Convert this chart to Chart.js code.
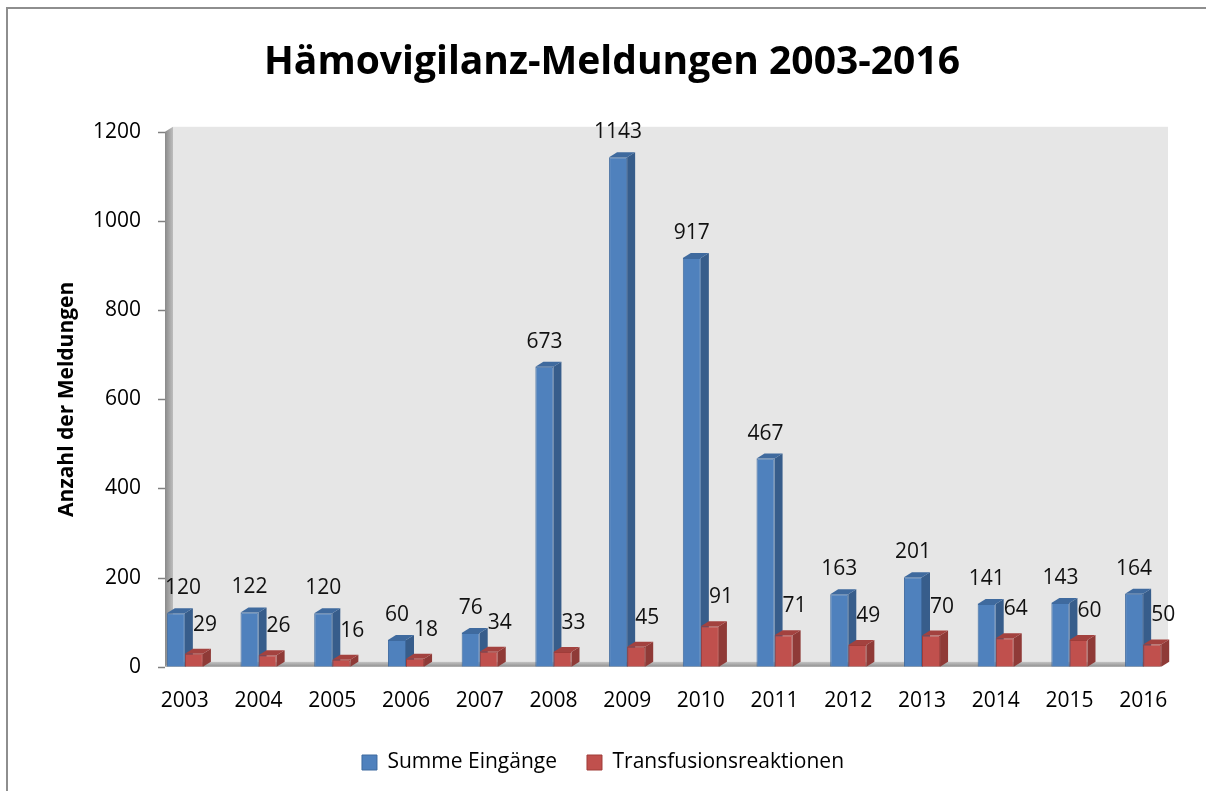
<!DOCTYPE html>
<html>
<head>
<meta charset="utf-8">
<script src="https://cdn.jsdelivr.net/npm/chart.js@4.4.0/dist/chart.umd.min.js"></script>
<style>
  html, body { margin: 0; padding: 0; background: #fff; }
  #wrap { position: relative; width: 1206px; height: 791px; overflow: hidden; }
  #wrap canvas { position: absolute; left: 0; top: 0; }
  #frame { position: absolute; left: 6px; top: 7px; right: -4px; bottom: -4px;
           border-top: 2px solid #8e8e8e; border-left: 2px solid #8e8e8e; pointer-events: none; }
</style>
</head>
<body>
<div id="wrap">
  <canvas id="chart" width="1206" height="791"></canvas>
  <div id="frame"></div>
</div>
<script>
// data
const years = ['2003', '2004', '2005', '2006', '2007', '2008', '2009',
               '2010', '2011', '2012', '2013', '2014', '2015', '2016'];
const summeEingaenge = [120, 122, 120, 60, 76, 673, 1143, 917, 467, 163, 201, 141, 143, 164];
const transfusionsreaktionen = [29, 26, 16, 18, 34, 33, 45, 91, 71, 49, 70, 64, 60, 50];
const yTicks = [0, 200, 400, 600, 800, 1000, 1200];

// 3d depth of the excel look
const DX = 8, DY = 5;
const sideColors = ['#375d8b', '#8f3a37'];
const topColors = ['#3f6a9e', '#a3423f'];

Chart.defaults.font.family = "'Open Sans', sans-serif";
Chart.defaults.color = '#000';

function wallGeometry(chart) {
  const area = chart.chartArea;
  const ys = chart.scales.y;
  return {
    fx: area.left + 17,
    R: area.right - 12,
    y0: ys.getPixelForValue(yTicks[0]),
    yTop: ys.getPixelForValue(yTicks[yTicks.length - 1])
  };
}

// walls, floor, ticks and the side / top faces of the bars
const walls3d = {
  id: 'walls3d',
  afterLayout(chart) {
    // title sits a little right of the legend in the original
    if (chart.titleBlock) {
      chart.titleBlock.left += 9;
      chart.titleBlock.right += 9;
    }
  },
  beforeDatasetsDraw(chart) {
    const ctx = chart.ctx;
    const ys = chart.scales.y;
    const g = wallGeometry(chart);
    ctx.save();
    // back wall
    ctx.fillStyle = '#e6e6e6';
    ctx.fillRect(g.fx + DX, g.yTop - DY, g.R - g.fx - DX, g.y0 - g.yTop);
    // left wall
    const lg = ctx.createLinearGradient(g.fx, 0, g.fx + DX, 0);
    lg.addColorStop(0, '#8a8a8a');
    lg.addColorStop(1, '#bdbdbd');
    ctx.fillStyle = lg;
    ctx.beginPath();
    ctx.moveTo(g.fx, g.yTop);
    ctx.lineTo(g.fx + DX, g.yTop - DY);
    ctx.lineTo(g.fx + DX, g.y0 - DY);
    ctx.lineTo(g.fx, g.y0);
    ctx.closePath();
    ctx.fill();
    // floor
    const fg = ctx.createLinearGradient(0, g.y0 - DY, 0, g.y0);
    fg.addColorStop(0, '#c4c4c4');
    fg.addColorStop(1, '#8f8f8f');
    ctx.fillStyle = fg;
    ctx.beginPath();
    ctx.moveTo(g.fx, g.y0);
    ctx.lineTo(g.fx + DX, g.y0 - DY);
    ctx.lineTo(g.R, g.y0 - DY);
    ctx.lineTo(g.R - DX, g.y0);
    ctx.closePath();
    ctx.fill();
    // tick marks
    ctx.strokeStyle = '#808080';
    ctx.lineWidth = 1.5;
    yTicks.forEach(v => {
      const y = Math.round(ys.getPixelForValue(v)) + 0.5;
      ctx.beginPath();
      ctx.moveTo(g.fx - 7, y);
      ctx.lineTo(g.fx, y);
      ctx.stroke();
    });
    // side and top faces, blue first so red covers the hidden part
    [0, 1].forEach(di => {
      chart.getDatasetMeta(di).data.forEach(bar => {
        const p = bar.getProps(['x', 'y', 'base', 'width'], true);
        const l = p.x - p.width / 2, r = p.x + p.width / 2;
        ctx.fillStyle = sideColors[di];
        ctx.beginPath();
        ctx.moveTo(r, p.y);
        ctx.lineTo(r + DX, p.y - DY);
        ctx.lineTo(r + DX, p.base - DY);
        ctx.lineTo(r, p.base);
        ctx.closePath();
        ctx.fill();
        ctx.fillStyle = topColors[di];
        ctx.beginPath();
        ctx.moveTo(l, p.y);
        ctx.lineTo(l + DX, p.y - DY);
        ctx.lineTo(r + DX, p.y - DY);
        ctx.lineTo(r, p.y);
        ctx.closePath();
        ctx.fill();
      });
    });
    ctx.restore();
  },
  afterDatasetsDraw(chart) {
    const ctx = chart.ctx;
    const g = wallGeometry(chart);
    ctx.save();
    ctx.font = "21px 'Open Sans', sans-serif";
    ctx.fillStyle = '#111';
    ctx.textAlign = 'center';
    ctx.textBaseline = 'middle';
    chart.getDatasetMeta(0).data.forEach((bar, i) => {
      const txt = String(summeEingaenge[i]);
      const w = ctx.measureText(txt).width;
      const x = Math.max(bar.x, g.fx + w / 2);
      ctx.fillText(txt, x, bar.y - 25);
    });
    chart.getDatasetMeta(1).data.forEach((bar, i) => {
      ctx.fillText(String(transfusionsreaktionen[i]), bar.x + 11, bar.y - 29);
    });
    ctx.restore();
  }
};

const ctx = document.getElementById('chart').getContext('2d');
const chart = new Chart(ctx, {
  type: 'bar',
  data: {
    labels: years,
    datasets: [{
      label: 'Summe Eingänge',
      data: summeEingaenge,
      backgroundColor: '#4f81bd',
      borderColor: '#3e6a9f',
      borderWidth: 1
    }, {
      label: 'Transfusionsreaktionen',
      data: transfusionsreaktionen,
      backgroundColor: '#c0504d',
      borderColor: '#a03c39',
      borderWidth: 1
    }]
  },
  options: {
    responsive: false,
    animation: false,
    layout: { padding: { left: 26, right: 26, top: 0, bottom: 8 } },
    datasets: { bar: { categoryPercentage: 0.49, barPercentage: 1 } },
    plugins: {
      title: {
        display: true,
        text: 'Hämovigilanz-Meldungen 2003-2016',
        font: { size: 39, weight: 'bold' },
        color: '#000',
        padding: { top: 39, bottom: 46 }
      },
      legend: {
        position: 'bottom',
        labels: {
          boxWidth: 15,
          boxHeight: 15,
          padding: 30,
          font: { size: 21 },
          color: '#000'
        }
      },
      tooltip: { enabled: false }
    },
    scales: {
      x: {
        grid: { display: false, drawTicks: false },
        border: { display: false },
        ticks: { font: { size: 21 }, color: '#000', padding: 22 },
        afterFit: s => { s.height -= 14; }
      },
      y: {
        min: 0,
        max: 1200,
        grid: { display: false, drawTicks: false },
        border: { display: false },
        ticks: {
          stepSize: 200,
          font: { size: 21 },
          color: '#000',
          padding: 7,
          callback: v => String(v)
        },
        afterFit: s => { s.width = 122; },
        title: {
          display: true,
          text: 'Anzahl der Meldungen',
          font: { size: 21, weight: 'bold' },
          color: '#000',
          padding: { top: 28, bottom: 0 }
        }
      }
    }
  },
  plugins: [walls3d]
});
</script>
</body>
</html>
